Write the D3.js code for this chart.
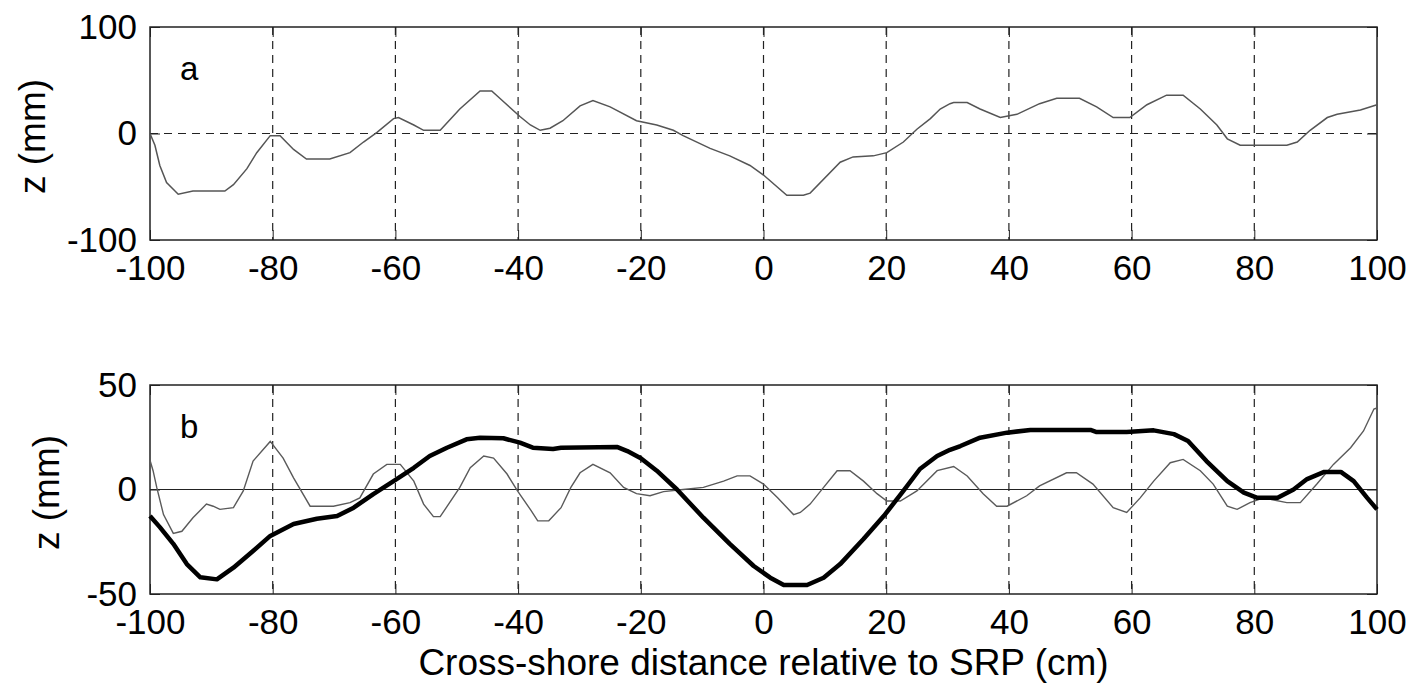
<!DOCTYPE html>
<html>
<head>
<meta charset="utf-8">
<script src="https://cdn.jsdelivr.net/npm/d3@7"></script>
<style>
  body { margin: 0; background: #fff; }
  svg { display: block; }
  text { font-family: "Liberation Sans", Arial, sans-serif; fill: #000; }
</style>
</head>
<body>
<svg width="1425" height="690"></svg>
<script>
// panel a: thin profile
const xA = [-100, -99.2, -98.4, -97.3, -95.4, -93, -87.8, -86.4, -84.2, -82.6, -80.4, -78.8, -76.6, -74.5,
  -70.7, -67.4, -65.2, -63, -60.3, -59.5, -57, -55.4, -52.7, -49.5, -46.2, -44.3, -42.4, -39.7, -38, -36.4,
  -34.8, -32.7, -29.9, -27.8, -25, -20.7, -17.4, -14.7, -13.1, -8.7, -5.5, -2.2, 0, 3.8, 6.5, 7.6, 12.5,
  14.6, 17.9, 20.1, 22.8, 25, 27.2, 28.8, 30.4, 31, 33.2, 35.3, 38.6, 41.3, 45, 47.8, 51.5, 54.3, 57, 59.7,
  62.5, 65.7, 68.4, 71.2, 73.9, 75.6, 77.7, 85.3, 87, 89.1, 91.9, 93.5, 97.3, 100];
const zA = [0, -11, -30, -46, -57, -54, -54, -48, -33, -18, -2, -2, -15, -24,
  -24, -18, -8, 1, 14, 15, 8, 3, 3, 23, 40, 40, 30, 16, 8, 3,
  5, 12, 26, 31, 25, 12, 8, 3, -2, -14, -21, -30, -39, -58, -58, -56, -27,
  -22, -21, -18, -8, 4, 14, 23, 28, 29, 29, 23, 15, 18, 28, 33, 33, 25, 15, 15,
  27, 36, 36, 23, 8, -5, -11, -11, -8, 3, 15, 18, 22, 27];

// panel b: thin profile
const xB1 = [-100, -99.5, -98.9, -97.8, -96.2, -94.8, -93, -90.8, -89.7, -88.6, -86.4, -84.8, -83.2, -80.4,
  -78.3, -76.6, -73.9, -70.1, -67.4, -65.8, -63.6, -61.4, -59.2, -57, -55.4, -53.8, -52.7, -49.5, -47.8,
  -45.6, -44, -41.8, -40.1, -37.9, -36.8, -35, -33, -31.4, -29.9, -27.8, -25, -22.8, -20.7, -18.5, -16.3,
  -13.1, -9.8, -6.5, -4.3, -2.2, 0, 2.3, 4.9, 6, 7.6, 9.8, 12, 14.1, 16.3, 18.5, 20.1, 22.3, 25, 28.3,
  31, 33.2, 35.8, 38, 39.7, 42.9, 45, 49.4, 51, 53.7, 57, 59.2, 61.4, 63.6, 66.3, 68.4, 71.2, 73.3, 75.6,
  77.2, 79.3, 81.5, 85.3, 87.5, 90.2, 92.9, 95.7, 97.8, 99.5, 100];
const zB1 = [14, 9, 1, -12, -21, -20, -13.5, -7, -8, -9.5, -8.7, -0.7, 13.6, 23,
  15, 5.6, -8, -8, -6.3, -4, 7.4, 12, 12, 4, -7, -13, -13, 1, 10.4,
  16, 15, 7.4, -0.7, -10, -15, -15, -8.7, 1, 8, 12, 8, 1, -2, -3, -1,
  0, 1, 4, 6.5, 6.5, 2.6, -4, -12, -11, -7, 1, 9, 9, 4, -2, -5.5, -5.5, -0.7, 9,
  11, 6.5, -2, -8, -8, -3, 1.7, 8, 8, 2.6, -8.7, -11, -4, 4, 12.8, 14.4, 9, 2.6, -8,
  -9.5, -6.3, -4, -6.3, -6.3, 2.6, 12, 20, 28, 38.5, 39];

// panel b: thick profile
const xB2 = [-100, -98.4, -96.2, -94, -91.8, -89.1, -86.4, -83.2, -80.4, -76.6, -72.8, -69.5, -66.8, -63.6,
  -60.3, -57, -54.4, -51.6, -48.4, -46.2, -42.4, -39.7, -37.6, -34.3, -33, -23.8, -22.2, -20, -17.4, -14.1,
  -9.8, -5.5, -1.6, 1.1, 3.3, 7.1, 9.8, 12.5, 16.3, 19.6, 22.8, 25.5, 28.3, 30.4, 32.1, 35.3, 39.7, 43.5,
  53.3, 54.3, 59.2, 63.6, 66.9, 69.2, 72.2, 75.6, 78.3, 80.5, 83.8, 86.4, 88.6, 91.4, 94.1, 96.2, 98.4, 100];
const zB2 = [-12.7, -18, -26, -35.7, -42, -43, -37.4, -29.4, -22.2, -16.5, -14, -12.7, -8.7, -2.2,
  4, 10.4, 16, 20, 24, 24.8, 24.5, 22.4, 20, 19.4, 20, 20.3, 18.4, 15, 9, 0,
  -13.5, -26, -36.6, -42.2, -45.7, -45.7, -42.2, -35.7, -23.7, -12.7, -0.7, 9.8, 16, 19, 20.8, 24.8, 27.2, 28.5,
  28.5, 27.5, 27.5, 28.3, 26.5, 23.2, 13.6, 4, -1.5, -4, -4, 0, 5, 8.4, 8.4, 4, -4, -9.5];

const xTicks = [-100, -80, -60, -40, -20, 0, 20, 40, 60, 80, 100];
const yTicksA = [-100, 0, 100];
const yTicksB = [-50, 0, 50];

const svg = d3.select("svg");
const left = 150, right = 1377;

const x = d3.scaleLinear().domain([-100, 100]).range([left, right]);

const fmt = d => d < 0 ? "-" + Math.abs(d) : d;

const drawPanel = (top, bottom, yDomain, yTicks, label, labelX, dashedZero) => {
  const y = d3.scaleLinear().domain(yDomain).range([bottom, top]);
  const g = svg.append("g");

  // vertical dashed grid
  g.selectAll("line.grid").data(xTicks.slice(1, -1))
    .enter().append("line")
      .attr("x1", d => x(d)).attr("x2", d => x(d))
      .attr("y1", top).attr("y2", bottom)
      .attr("stroke", "#222").attr("stroke-width", 1.2)
      .attr("stroke-dasharray", "8,6");

  // zero line
  g.append("line")
    .attr("x1", left).attr("x2", right)
    .attr("y1", y(0)).attr("y2", y(0))
    .attr("stroke", "#222").attr("stroke-width", 1.2)
    .attr("stroke-dasharray", dashedZero ? "8,6" : null);

  // ticks inside, bottom and top
  const xAxisB = d3.axisBottom(x).tickValues(xTicks).tickSize(-10).tickPadding(15).tickFormat(fmt);
  const gx = g.append("g").attr("transform", `translate(0,${bottom})`).call(xAxisB);
  gx.select(".domain").remove();
  gx.selectAll("line").attr("stroke", "#222");
  gx.selectAll("text").attr("font-size", 35).attr("dy", "0.71em");

  const xAxisT = d3.axisTop(x).tickValues(xTicks).tickSize(-10).tickFormat("");
  const gxt = g.append("g").attr("transform", `translate(0,${top})`).call(xAxisT);
  gxt.select(".domain").remove();
  gxt.selectAll("line").attr("stroke", "#222");

  const yAxisL = d3.axisLeft(y).tickValues(yTicks).tickSize(-10).tickPadding(13).tickFormat(fmt);
  const gy = g.append("g").attr("transform", `translate(${left},0)`).call(yAxisL);
  gy.select(".domain").remove();
  gy.selectAll("line").attr("stroke", "#222");
  gy.selectAll("text").attr("font-size", 35);

  const yAxisR = d3.axisRight(y).tickValues(yTicks).tickSize(-10).tickFormat("");
  const gyr = g.append("g").attr("transform", `translate(${right},0)`).call(yAxisR);
  gyr.select(".domain").remove();
  gyr.selectAll("line").attr("stroke", "#222");

  // frame
  g.append("rect")
    .attr("x", left).attr("y", top)
    .attr("width", right - left).attr("height", bottom - top)
    .attr("fill", "none").attr("stroke", "#222").attr("stroke-width", 1.5);

  // panel letter
  g.append("text").attr("x", 180).attr("y", top + 53)
    .attr("font-size", 33).text(label);

  // y label
  g.append("text")
    .attr("transform", `translate(${labelX},${(top + bottom) / 2 + 3}) rotate(-90)`)
    .attr("text-anchor", "middle").attr("font-size", 37)
    .text("z (mm)");

  return y;
};

const yA = drawPanel(27, 240, [-100, 100], yTicksA, "a", 45, true);
const yB = drawPanel(385, 594, [-50, 50], yTicksB, "b", 59, false);

const lineA = d3.line().x((d, i) => x(xA[i])).y(d => yA(d));
svg.append("path").datum(zA)
  .attr("d", lineA)
  .attr("fill", "none").attr("stroke", "#555").attr("stroke-width", 1.5);

const lineB1 = d3.line().x((d, i) => x(xB1[i])).y(d => yB(d));
svg.append("path").datum(zB1)
  .attr("d", lineB1)
  .attr("fill", "none").attr("stroke", "#5a5a5a").attr("stroke-width", 1.4);

const lineB2 = d3.line().x((d, i) => x(xB2[i])).y(d => yB(d));
svg.append("path").datum(zB2)
  .attr("d", lineB2)
  .attr("fill", "none").attr("stroke", "#000").attr("stroke-width", 4.5)
  .attr("stroke-linejoin", "round");

// x label
svg.append("text")
  .attr("x", (left + right) / 2).attr("y", 675)
  .attr("text-anchor", "middle").attr("font-size", 37)
  .text("Cross-shore distance relative to SRP (cm)");
</script>
</body>
</html>
